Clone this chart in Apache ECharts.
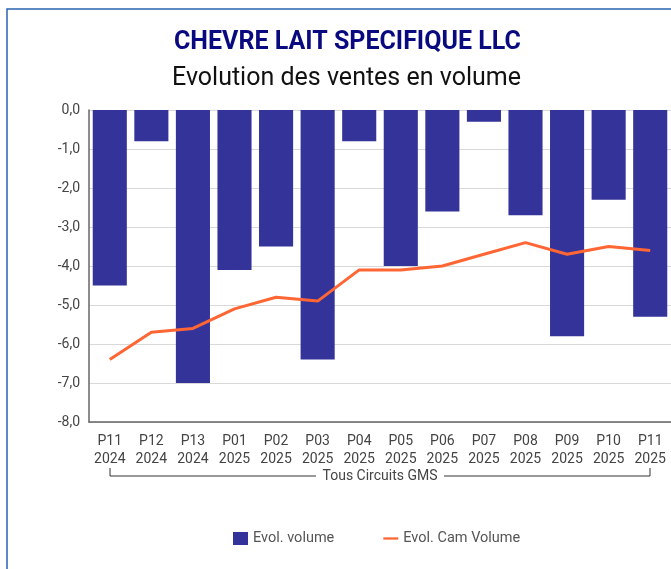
<!DOCTYPE html>
<html>
<head>
<meta charset="utf-8">
<script src="https://cdn.jsdelivr.net/npm/echarts@6/dist/echarts.min.js"></script>
<style>
  html, body { margin: 0; padding: 0; background: #fff; }
  #chart { width: 671px; height: 569px; }
</style>
</head>
<body>
<div id="chart"></div>
<script>
// periods
var categories = ['P11\n2024', 'P12\n2024', 'P13\n2024', 'P01\n2025', 'P02\n2025', 'P03\n2025', 'P04\n2025',
  'P05\n2025', 'P06\n2025', 'P07\n2025', 'P08\n2025', 'P09\n2025', 'P10\n2025', 'P11\n2025']
var evolVolume = [-4.5, -0.8, -7.0, -4.1, -3.5, -6.4, -0.8, -4.0, -2.6, -0.3, -2.7, -5.8, -2.3, -5.3]
var evolCamVolume = [-6.4, -5.7, -5.6, -5.1, -4.8, -4.9, -4.1, -4.1, -4.0, -3.7, -3.4, -3.7, -3.5, -3.6]
var groupLabel = 'Tous Circuits GMS'

var chart = echarts.init(document.getElementById('chart'))

chart.setOption({
  animation: false,
  textStyle: { fontFamily: 'Roboto' },
  title: [
    {
      text: 'CHEVRE LAIT SPECIFIQUE LLC',
      left: 169,
      top: 25,
      textStyle: { color: '#0a0a80', fontSize: 25, fontWeight: 'bold', fontFamily: 'Roboto' }
    },
    {
      text: 'Evolution des ventes en volume',
      left: 167,
      top: 61,
      textStyle: { color: '#111', fontSize: 25, fontWeight: 'normal', fontFamily: 'Roboto' }
    }
  ],
  grid: { left: 89, right: 0, top: 110, bottom: 147 },
  legend: {
    top: 526,
    left: 228,
    itemGap: 49,
    itemWidth: 15,
    itemHeight: 13,
    textStyle: { color: '#555', fontSize: 14.5 },
    data: [
      { name: 'Evol. volume', icon: 'rect' },
      { name: 'Evol. Cam Volume', icon: 'path://M0,0 L20,0 L20,3 L0,3 Z', itemStyle: { color: '#ff6633' } }
    ]
  },
  xAxis: {
    type: 'category',
    data: categories,
    position: 'bottom',
    axisLine: { onZero: false, lineStyle: { color: '#666', width: 1.5 } },
    axisTick: { show: false },
    axisLabel: { color: '#444', fontSize: 14, lineHeight: 18, margin: 10, interval: 0 }
  },
  yAxis: {
    type: 'value',
    min: -8,
    max: 0,
    interval: 1,
    axisLine: { show: true, lineStyle: { color: '#666', width: 1.5 } },
    axisTick: { show: false },
    axisLabel: {
      color: '#444',
      fontSize: 14,
      margin: 9,
      formatter: function (v) { return v.toFixed(1).replace('.', ',') }
    },
    splitLine: { lineStyle: { color: '#d9d9d9', width: 1 } }
  },
  series: [
    {
      name: 'Evol. volume',
      type: 'bar',
      data: evolVolume,
      barWidth: '82%',
      itemStyle: { color: '#333399' }
    },
    {
      name: 'Evol. Cam Volume',
      type: 'line',
      data: evolCamVolume,
      showSymbol: false,
      symbol: 'none',
      lineStyle: { color: '#ff6633', width: 3 },
      itemStyle: { color: '#ff6633' }
    }
  ],
  graphic: [
    {
      type: 'rect',
      shape: { x: 7, y: 9, width: 700, height: 600 },
      style: { fill: 'none', stroke: '#2a64b0', lineWidth: 1.5 },
      silent: true
    },
    {
      type: 'polyline',
      shape: { points: [[110, 468], [110, 476], [316, 476]] },
      style: { stroke: '#333', lineWidth: 1, fill: 'none' }
    },
    {
      type: 'polyline',
      shape: { points: [[444, 476], [650, 476], [650, 468]] },
      style: { stroke: '#333', lineWidth: 1, fill: 'none' }
    },
    {
      type: 'text',
      x: 380,
      y: 476,
      style: {
        text: groupLabel,
        fill: '#444',
        font: '14px Roboto',
        align: 'center',
        verticalAlign: 'middle'
      }
    }
  ]
})
</script>
</body>
</html>
